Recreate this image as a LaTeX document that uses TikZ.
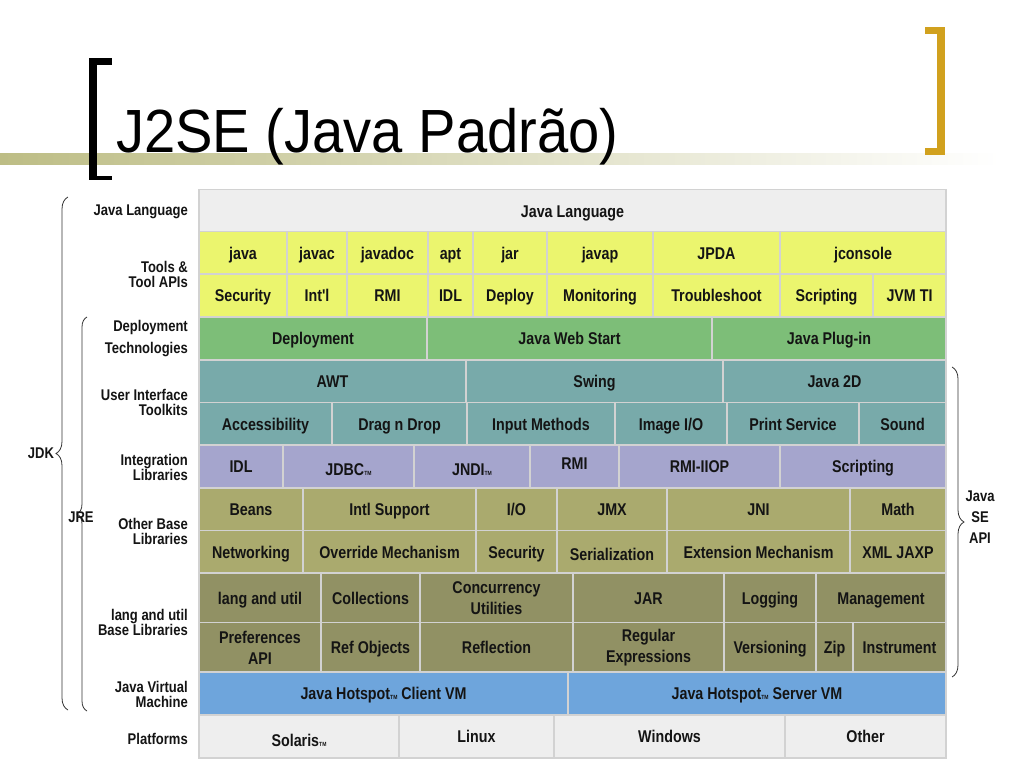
\documentclass[tikz,border=0pt]{standalone}
\usepackage{fontspec}
\usetikzlibrary{decorations.pathreplacing}

\newfontfamily\cellfont[FakeStretch=0.84]{Liberation Sans}
\newfontfamily\titlefont[FakeStretch=0.92]{Liberation Sans}
\newcommand{\tm}{{\fontsize{6}{6}\selectfont TM}}

\definecolor{cellline}{HTML}{D2D2D2}
\definecolor{paleGray}{HTML}{EEEEEE}
\definecolor{toolYellow}{HTML}{EBF56E}
\definecolor{deployGreen}{HTML}{7DBE78}
\definecolor{uiTeal}{HTML}{78AAAA}
\definecolor{integLavender}{HTML}{A5A5CD}
\definecolor{baseOlive}{HTML}{AAAA6E}
\definecolor{langOlive}{HTML}{919164}
\definecolor{vmBlue}{HTML}{6EA5DC}
\definecolor{bandOlive}{HTML}{BDBD85}
\definecolor{bracketGold}{HTML}{D1A11E}

\tikzset{
  cell/.style={draw=cellline, line width=1.5pt, inner sep=0pt, align=center, text=black!92,
    minimum height=43, text height=12.2pt, text depth=0pt,
    font={\cellfont\bfseries\fontsize{17}{21}\selectfont}},
  twoline/.style={text height=, text depth=},
  plain/.style={cell, fill=paleGray},
  tool/.style={cell, fill=toolYellow},
  depl/.style={cell, fill=deployGreen},
  uikit/.style={cell, fill=uiTeal},
  integ/.style={cell, fill=integLavender},
  base/.style={cell, fill=baseOlive},
  langutil/.style={cell, fill=langOlive, minimum height=50},
  jvm/.style={cell, fill=vmBlue},
  lbl/.style={anchor=east, align=right, inner sep=0pt, text=black!92,
    font={\cellfont\bfseries\fontsize{15.5}{15}\selectfont}},
  sidelbl/.style={align=center, inner sep=0pt, text=black!92,
    font={\cellfont\bfseries\fontsize{15.5}{21}\selectfont}},
  sbrace/.style={decorate, decoration={brace, amplitude=12pt}, draw=black!80, line width=0.8pt}
}

\begin{document}
\begin{tikzpicture}[x=1pt,y=-1pt]

	\fill[white] (0,0) rectangle (1024,768);
	\useasboundingbox (0,0) rectangle (1024,768);

	% title bar
	\shade[left color=bandOlive, middle color=bandOlive!55, right color=white] (0,153) rectangle (1000,164);
	\fill[black] (89,58) rectangle (112,65);
	\fill[black] (89,58) rectangle (97,180);
	\fill[black] (89,176) rectangle (112,180);
	\fill[bracketGold] (925,27) rectangle (945,34);
	\fill[bracketGold] (937,27) rectangle (945,155);
	\fill[bracketGold] (925,148) rectangle (945,155);
	\node (title) [anchor=base west, inner sep=0pt, font={\titlefont\fontsize{61}{61}\selectfont}] at (116,152) {J2SE (Java Padrão)};

	\node (lang) [plain, minimum width=747] at (572.5,211) {Java Language};

	\node (tjava) [tool, minimum width=88] at (243,253) {java};
	\node (tjavac) [tool, minimum width=60] at (317,253) {javac};
	\node (tjavadoc) [tool, minimum width=81] at (387.5,253) {javadoc};
	\node (tapt) [tool, minimum width=45] at (450.5,253) {apt};
	\node (tjar) [tool, minimum width=74] at (510,253) {jar};
	\node (tjavap) [tool, minimum width=106] at (600,253) {javap};
	\node (tjpda) [tool, minimum width=127] at (716.5,253) {JPDA};
	\node (tjconsole) [tool, minimum width=166] at (863,253) {jconsole};

	\node (tsecurity) [tool, minimum width=88] at (243,295.5) {Security};
	\node (tintl) [tool, minimum width=60] at (317,295.5) {Int'l};
	\node (trmi) [tool, minimum width=81] at (387.5,295.5) {RMI};
	\node (tidl) [tool, minimum width=45] at (450.5,295.5) {IDL};
	\node (tdeploy) [tool, minimum width=74] at (510,295.5) {Deploy};
	\node (tmonitor) [tool, minimum width=106] at (600,295.5) {Monitoring};
	\node (ttrouble) [tool, minimum width=127] at (716.5,295.5) {Troubleshoot};
	\node (tscript) [tool, minimum width=93] at (826.5,295.5) {Scripting};
	\node (tjvmti) [tool, minimum width=73] at (909.5,295.5) {JVM TI};

	\node (ddeploy) [depl, minimum width=228] at (313,338.5) {Deployment};
	\node (dwebstart) [depl, minimum width=285] at (569.5,338.5) {Java Web Start};
	\node (dplugin) [depl, minimum width=234] at (829,338.5) {Java Plug-in};

	\node (uawt) [uikit, minimum width=267] at (332.5,381.5) {AWT};
	\node (uswing) [uikit, minimum width=257] at (594.5,381.5) {Swing};
	\node (u2d) [uikit, minimum width=223] at (834.5,381.5) {Java 2D};

	\node (uaccess) [uikit, minimum width=133] at (265.5,424) {Accessibility};
	\node (udrag) [uikit, minimum width=135] at (399.5,424) {Drag n Drop};
	\node (uinput) [uikit, minimum width=148] at (541,424) {Input Methods};
	\node (uimage) [uikit, minimum width=112] at (671,424) {Image I/O};
	\node (uprint) [uikit, minimum width=132] at (793,424) {Print Service};
	\node (usound) [uikit, minimum width=87] at (902.5,424) {Sound};

	\node (iidl) [integ, minimum width=84] at (241,466.5) {IDL};
	\node (ijdbc) [integ, minimum width=131] at (348.5,466.5) {\raisebox{-3pt}{JDBC\tm}};
	\node (ijndi) [integ, minimum width=116] at (472,466.5) {\raisebox{-3pt}{JNDI\tm}};
	\node (irmi) [integ, minimum width=89] at (574.5,466.5) {\raisebox{3pt}{RMI}};
	\node (iiiop) [integ, minimum width=161] at (699.5,466.5) {RMI-IIOP};
	\node (iscript) [integ, minimum width=166] at (863,466.5) {Scripting};

	\node (bbeans) [base, minimum width=104] at (251,509.5) {Beans};
	\node (bintl) [base, minimum width=173] at (389.5,509.5) {Intl Support};
	\node (bio) [base, minimum width=81] at (516.5,509.5) {I/O};
	\node (bjmx) [base, minimum width=110] at (612,509.5) {JMX};
	\node (bjni) [base, minimum width=183] at (758.5,509.5) {JNI};
	\node (bmath) [base, minimum width=96] at (898,509.5) {Math};

	\node (bnet) [base, minimum width=104] at (251,552) {Networking};
	\node (boverride) [base, minimum width=173] at (389.5,552) {Override Mechanism};
	\node (bsecurity) [base, minimum width=81] at (516.5,552) {Security};
	\node (bserial) [base, minimum width=110] at (612,552) {\raisebox{-2pt}{Serialization}};
	\node (bext) [base, minimum width=183] at (758.5,552) {Extension Mechanism};
	\node (bxml) [base, minimum width=96] at (898,552) {XML JAXP};

	\node (llang) [langutil, minimum width=122] at (260,598) {lang and util};
	\node (lcoll) [langutil, minimum width=99] at (370.5,598) {Collections};
	\node (lconc) [langutil, twoline, minimum width=153] at (496.5,598) {Concurrency\\Utilities};
	\node (ljar) [langutil, minimum width=151] at (648.5,598) {JAR};
	\node (llog) [langutil, minimum width=92] at (770,598) {Logging};
	\node (lmgmt) [langutil, minimum width=130] at (881,598) {Management};

	\node (lpref) [langutil, twoline, minimum width=122] at (260,647.5) {Preferences\\API};
	\node (lref) [langutil, minimum width=99] at (370.5,647.5) {Ref Objects};
	\node (lrefl) [langutil, minimum width=153] at (496.5,647.5) {Reflection};
	\node (lregex) [langutil, twoline, minimum width=151] at (648.5,647.5) {Regular\\Expressions};
	\node (lversion) [langutil, minimum width=92] at (770,647.5) {Versioning};
	\node (lzip) [langutil, minimum width=37] at (834.5,647.5) {Zip};
	\node (linstr) [langutil, minimum width=93] at (899.5,647.5) {Instrument};

	\node (vclient) [jvm, minimum width=369] at (383.5,693.5) {Java Hotspot\tm{} Client VM};
	\node (vserver) [jvm, minimum width=378] at (757,693.5) {Java Hotspot\tm{} Server VM};

	\node (psolaris) [plain, minimum width=200] at (299,736.5) {\raisebox{-4pt}{Solaris\tm}};
	\node (plinux) [plain, minimum width=155] at (476.5,736.5) {Linux};
	\node (pwindows) [plain, minimum width=231] at (669.5,736.5) {Windows};
	\node (pother) [plain, minimum width=161] at (865.5,736.5) {Other};

	% row labels
	\node (llanguage) [lbl] at (188,211.5) {Java Language};
	\node (ltools) [lbl] at (188,274.5) {Tools \&\\Tool APIs};
	\node (ldeploy) [lbl] at (188,339) {Deployment\\[7pt]Technologies};
	\node (luikit) [lbl] at (188,402) {User Interface\\Toolkits};
	\node (linteg) [lbl] at (188,467) {Integration\\Libraries};
	\node (lbase) [lbl] at (188,531) {Other Base\\Libraries};
	\node (llangutil) [lbl] at (188,622) {lang and util\\Base Libraries};
	\node (ljvm) [lbl] at (188,694.5) {Java Virtual\\Machine};
	\node (lplat) [lbl] at (188,739) {Platforms};

	% braces
	\coordinate (jdktop) at (68,197);
	\coordinate (jdkbot) at (68,710);
	\coordinate (jretop) at (87,317);
	\coordinate (jrebot) at (87,711);
	\coordinate (apitop) at (952,367);
	\coordinate (apibot) at (952,677);
	\draw[sbrace] (jdkbot) -- (jdktop);
	\draw[sbrace, decoration={amplitude=10pt}] (jrebot) -- (jretop);
	\draw[sbrace] (apitop) -- (apibot);

	\node (jdk) [sidelbl] at (41,453) {JDK};
	\node (jre) [sidelbl] at (81,517) {JRE};
	\node (seapi) [sidelbl] at (980,517) {Java\\SE\\API};

\end{tikzpicture}
\end{document}
